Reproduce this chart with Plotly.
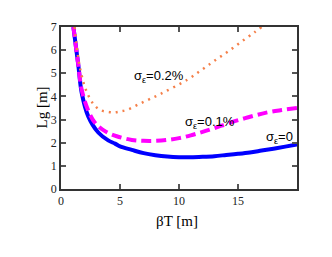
import plotly.graph_objects as go

# sigma_eps = 0 (blue, solid)
x0 = [1.05, 1.47, 1.75, 2.31, 3.16, 4.0, 4.58, 5.0, 6.0, 7.0, 8.0, 9.0, 10.0, 11.0, 12.0, 13.0, 14.0, 15.0, 16.0, 17.0, 18.0, 19.0, 20.0]
y0 = [7.0, 5.34, 4.17, 3.14, 2.44, 2.1, 1.96, 1.84, 1.69, 1.55, 1.46, 1.40, 1.37, 1.37, 1.39, 1.42, 1.47, 1.52, 1.58, 1.66, 1.74, 1.83, 1.92]

# sigma_eps = 0.1% (magenta, dashed)
x1 = [1.05, 1.47, 1.75, 2.3, 2.88, 3.73, 4.72, 6.0, 7.0, 8.0, 9.0, 10.0, 11.0, 12.0, 13.0, 14.3, 15.8, 17.4, 18.7, 20.0]
y1 = [7.0, 5.34, 4.3, 3.4, 2.86, 2.5, 2.28, 2.12, 2.08, 2.08, 2.12, 2.2, 2.32, 2.47, 2.63, 2.86, 3.09, 3.3, 3.41, 3.5]

# sigma_eps = 0.2% (orange, dotted)
x2 = [1.15, 1.3, 1.45, 1.6, 1.8, 2.1, 2.7, 3.3, 4.0, 4.5, 5.0, 5.6, 6.7, 8.4, 10.7, 11.9, 13.0, 14.15, 15.3, 16.4, 17.0]
y2 = [7.0, 6.3, 5.7, 5.25, 4.8, 4.3, 3.7, 3.42, 3.33, 3.31, 3.35, 3.42, 3.69, 4.1, 4.72, 5.14, 5.54, 5.94, 6.37, 6.77, 7.0]

labels = ["σ<sub>ε</sub>=0.2%", "σ<sub>ε</sub>=0.1%", "σ<sub>ε</sub>=0"]
label_x = [8.3, 12.6, 18.5]
label_y = [4.85, 2.89, 2.24]

xticks = [0, 5, 10, 15]
yticks = [0, 1, 2, 3, 4, 5, 6, 7]

SERIF = "Liberation Serif, Times New Roman, Times, serif"
SANS = "Liberation Sans, Arial, sans-serif"

fig = go.Figure()
fig.add_trace(go.Scatter(x=x0, y=y0, mode="lines", line=dict(color="#0000ff", width=4, shape="spline")))
fig.add_trace(go.Scatter(x=x1, y=y1, mode="lines", line=dict(color="#ff00ff", width=4, dash="10px,5px", shape="spline")))
fig.add_trace(go.Scatter(x=x2, y=y2, mode="lines", line=dict(color="#f5804a", width=2.5, dash="2px,5px", shape="spline")))

for t, lx, ly in zip(labels, label_x, label_y):
    fig.add_annotation(x=lx, y=ly, text=t, showarrow=False,
                       font=dict(family=SANS, size=13, color="black"))

fig.add_annotation(xref="paper", yref="paper", x=0.492, y=-0.26, text="βT [m]", showarrow=False,
                   font=dict(family=SERIF, size=15, color="black"))
fig.add_annotation(xref="paper", yref="paper", x=-0.125, y=0.5, text="Lg [m]", showarrow=False, textangle=-90,
                   font=dict(family=SERIF, size=15, color="black"))

axis_common = dict(showgrid=False, zeroline=False, showline=True, linecolor="#333333", linewidth=1.5,
                   ticks="inside", ticklen=5, tickwidth=1.5, tickcolor="#555555", mirror="ticks",
                   tickfont=dict(family=SERIF, size=12, color="#222222"))
fig.update_xaxes(range=[0, 20], tickvals=xticks, **axis_common)
fig.update_yaxes(range=[0, 7], tickvals=yticks, ticklabelstandoff=0, **axis_common)

fig.update_layout(width=332, height=257, margin=dict(l=53, r=43, t=12, b=76),
                  paper_bgcolor="white", plot_bgcolor="white", showlegend=False)

fig.write_html("out.html")
